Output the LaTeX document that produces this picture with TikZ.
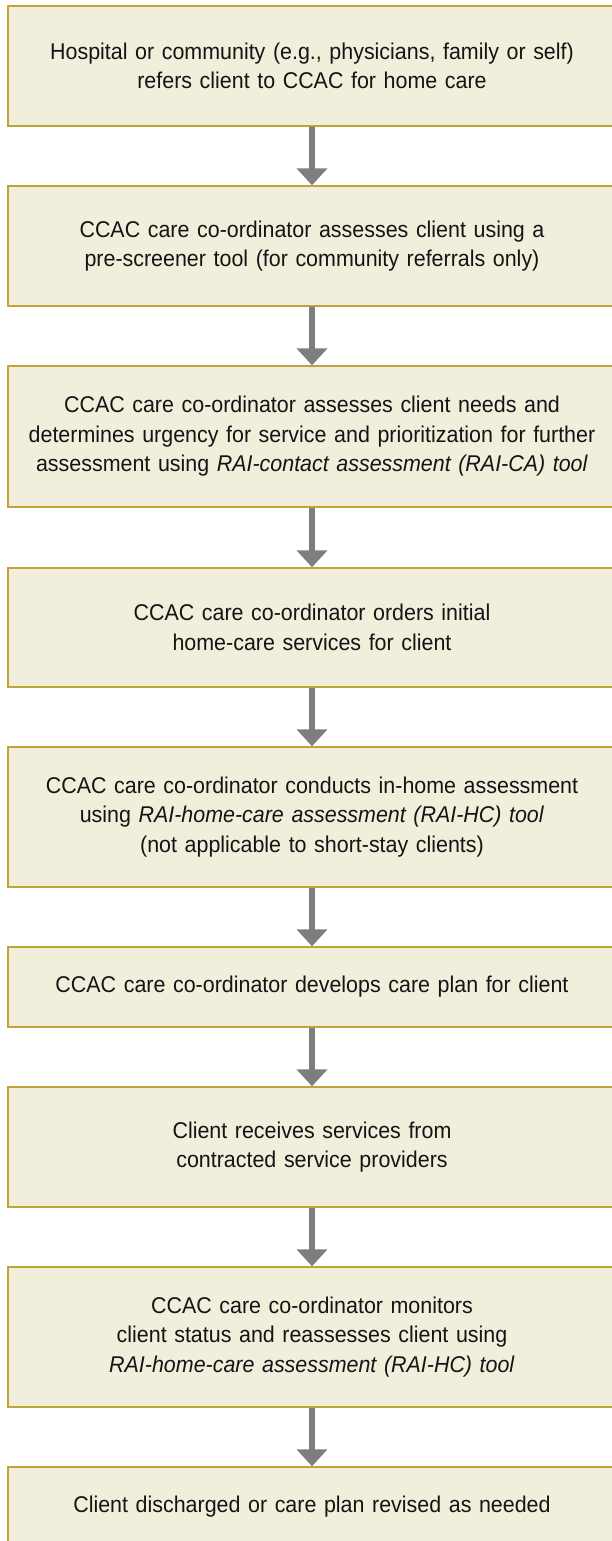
\documentclass[tikz,border=0pt]{standalone}
\usepackage{fontspec}
\setmainfont{Liberation Sans}[FakeStretch=0.94]
\usetikzlibrary{arrows.meta}

\definecolor{boxfill}{RGB}{242,238,220}
\definecolor{boxline}{RGB}{192,164,58}
\definecolor{arrowgray}{RGB}{126,126,128}
\definecolor{txt}{RGB}{20,20,20}

\tikzset{
  stepbox/.style={rectangle, draw=boxline, fill=boxfill, line width=1.4pt,
    minimum width=608pt, text width=590pt, inner sep=0pt, align=center,
    text=txt, font=\fontsize{22.8pt}{29.5pt}\selectfont},
  flow/.style={draw=arrowgray, line width=6.3pt,
    -{Triangle[width=30pt,length=17pt]}, arrowgray}
}

\begin{document}
\begin{tikzpicture}[x=1pt,y=1pt]
  \useasboundingbox (0,0) rectangle (612,-1541);
  \clip (0,0) rectangle (612,-1541);

  \node[stepbox, minimum height=120pt] (b1) at (312,-66)
    {Hospital or community (e.g., physicians, family or self)\\refers client to CCAC for home care};
  \node[stepbox, minimum height=120pt] (b2) at (312,-246)
    {CCAC care co-ordinator assesses client using a\\pre-screener tool (for community referrals only)};
  \node[stepbox, minimum height=141pt] (b3) at (312,-436.5)
    {CCAC care co-ordinator assesses client needs and\\determines urgency for service and prioritization for further\\assessment using \textit{RAI-contact assessment (RAI-CA) tool}};
  \node[stepbox, minimum height=119pt] (b4) at (312,-627.5)
    {CCAC care co-ordinator orders initial\\home-care services for client};
  \node[stepbox, minimum height=140pt] (b5) at (312,-817)
    {CCAC care co-ordinator conducts in-home assessment\\using \textit{RAI-home-care assessment (RAI-HC) tool}\\(not applicable to short-stay clients)};
  \node[stepbox, minimum height=80pt] (b6) at (312,-987)
    {CCAC care co-ordinator develops care plan for client};
  \node[stepbox, minimum height=120pt] (b7) at (312,-1147)
    {Client receives services from\\contracted service providers};
  \node[stepbox, minimum height=140pt] (b8) at (312,-1337)
    {CCAC care co-ordinator monitors\\client status and reassesses client using\\\textit{RAI-home-care assessment (RAI-HC) tool}};
  \node[stepbox, minimum height=80pt] (b9) at (312,-1507)
    {Client discharged or care plan revised as needed};

  \foreach \a/\b in {b1/b2,b2/b3,b3/b4,b4/b5,b5/b6,b6/b7,b7/b8,b8/b9}
    \draw[flow] (\a.south) -- (\b.north);
\end{tikzpicture}
\end{document}
